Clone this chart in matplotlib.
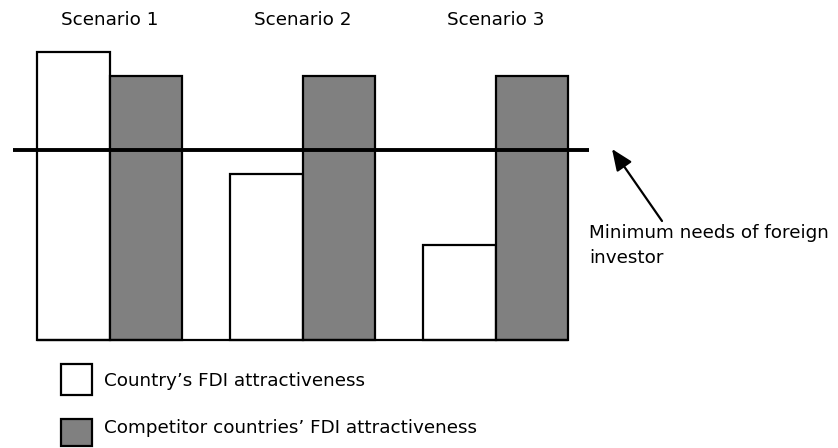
import matplotlib
matplotlib.use("Agg")
import matplotlib.pyplot as plt
from matplotlib.patches import Rectangle

# Scenario data (arbitrary attractiveness units)
scenarios = ["Scenario 1", "Scenario 2", "Scenario 3"]
country = [109, 63, 36]
competitors = [100, 100, 100]
minimum_need = 72

legend_labels = ["Country\u2019s FDI attractiveness",
                 "Competitor countries\u2019 FDI attractiveness"]

W, H, DPI = 838, 448, 100
fig = plt.figure(figsize=(W / DPI, H / DPI), dpi=DPI)
plt.rcParams["font.family"] = ["DejaVu Sans"]
FS = 13.2

# Main axes: x in pixel-like layout units, y in attractiveness units
px_per_unit = 2.64
base_px = 340
ax = fig.add_axes([0, 0, 1, 1])
ax.set_xlim(0, W)
ax.set_ylim(-(H - base_px) / px_per_unit, base_px / px_per_unit)
ax.axis("off")

group_left = [37, 230, 423]
bar_w = 72.5
white_x = [g + bar_w / 2 for g in group_left]
gray_x = [g + bar_w * 1.5 for g in group_left]

ax.bar(white_x, country, width=bar_w, color="white", edgecolor="black",
       linewidth=1.6, zorder=2)
ax.bar(gray_x, competitors, width=bar_w, color="#808080", edgecolor="black",
       linewidth=1.6, zorder=2)

# baseline under the bars
ax.plot([group_left[0], group_left[-1] + 2 * bar_w], [0, 0], color="black",
        linewidth=1.6, zorder=3, solid_capstyle="butt")

# minimum-needs threshold
ax.plot([13, 589], [minimum_need, minimum_need], color="black",
        linewidth=2.8, zorder=4, solid_capstyle="butt")

# Overlay axes in pixel coordinates for labels and legend
ov = fig.add_axes([0, 0, 1, 1])
ov.set_xlim(0, W)
ov.set_ylim(H, 0)
ov.axis("off")
ov.patch.set_alpha(0)

for name, g in zip(scenarios, group_left):
    ov.text(g + bar_w, 20, name, ha="center", va="center", fontsize=FS)

ov.annotate("", xy=(612, 149), xytext=(662, 221),
            arrowprops=dict(arrowstyle="-|>,head_length=1.3,head_width=0.55",
                            color="black", linewidth=1.6,
                            shrinkA=0, shrinkB=0))
ov.text(589, 233, "Minimum needs of foreign", ha="left", va="center",
        fontsize=FS)
ov.text(589, 258, "investor", ha="left", va="center", fontsize=FS)

ov.add_patch(Rectangle((61, 364), 31, 31, facecolor="white",
                       edgecolor="black", linewidth=1.6))
ov.add_patch(Rectangle((61, 419), 31, 27, facecolor="#808080",
                       edgecolor="black", linewidth=1.6))
ov.text(104, 381, legend_labels[0], ha="left", va="center", fontsize=FS)
ov.text(104, 428, legend_labels[1], ha="left", va="center", fontsize=FS)

fig.savefig("out.png", dpi=DPI)
